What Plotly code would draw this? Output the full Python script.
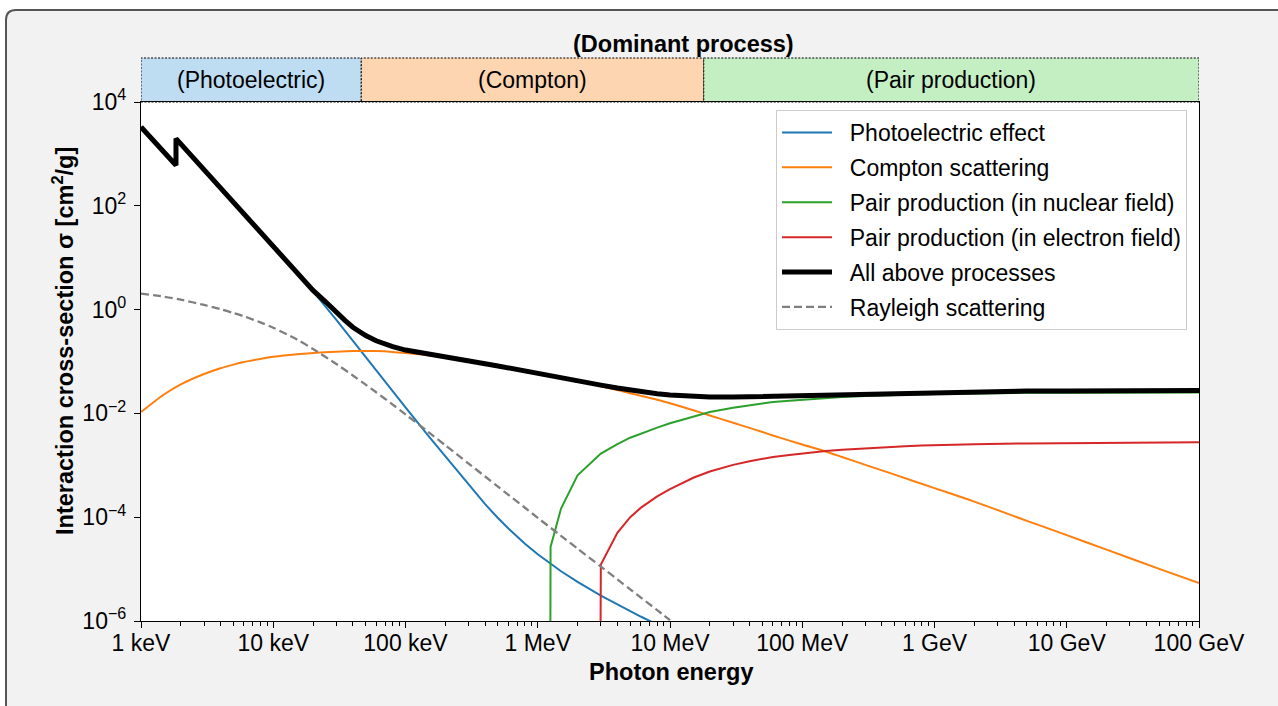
import math
import plotly.graph_objects as go

# ---------------- data (energies in MeV, cross-sections in cm^2/g) ----------------
photo_E = [0.001, 0.0015, 0.001839, 0.001839, 0.002, 0.003, 0.004, 0.005, 0.006, 0.008,
           0.01, 0.015, 0.02, 0.03, 0.04, 0.05, 0.06, 0.08, 0.1, 0.15, 0.2, 0.3, 0.4, 0.5,
           0.6, 0.8, 1.0, 1.5, 2.0, 3.0, 4.0, 5.0, 6.0, 8.0, 10.0]
photo_sigma = [3300, 1064, 603, 1972, 1556, 491, 217, 115, 68.7, 30.3,
               16.1, 5.09, 2.25, 0.637, 0.249, 0.122, 0.0676, 0.0267, 0.0130, 3.61e-3,
               1.48e-3, 4.19e-4, 1.78e-4, 9.64e-5, 6.07e-5, 3.08e-5, 1.93e-5, 9.10e-6,
               5.66e-6, 3.08e-6, 2.07e-6, 1.54e-6, 1.22e-6, 8.53e-7, 6.5e-7]

compton_E = [0.001, 0.0015, 0.002, 0.003, 0.004, 0.005, 0.006, 0.008, 0.01, 0.015, 0.02,
             0.03, 0.04, 0.05, 0.06, 0.08, 0.1, 0.15, 0.2, 0.3, 0.4, 0.5, 0.6, 0.8, 1,
             1.5, 2, 3, 4, 5, 6, 8, 10, 15, 20, 30, 40, 50, 60, 80, 100, 150, 200, 300,
             400, 500, 1000, 2000, 5000, 1e4, 2e4, 5e4, 1e5]
compton_sigma = [0.0106, 0.0234, 0.0363, 0.0575, 0.0741, 0.0871, 0.0977, 0.112, 0.123,
                 0.138, 0.146, 0.154, 0.1585, 0.1596, 0.1585, 0.153, 0.146, 0.132, 0.120,
                 0.101, 0.0891, 0.0813, 0.0750, 0.0661, 0.0596, 0.0490, 0.0417, 0.0335,
                 0.0282, 0.0245, 0.0219, 0.0184, 0.0157, 0.0115, 0.00912, 0.00661,
                 0.00525, 0.00437, 0.00376, 0.00299, 0.00251, 0.00185, 0.00145, 0.00102,
                 8.0e-4, 6.61e-4, 3.63e-4, 2.0e-4, 8.51e-5, 4.52e-5, 2.37e-5, 1.01e-5, 5.37e-6]

pair_nuc_E = [1.022, 1.25, 1.5, 2, 3, 4, 5, 6, 8, 10, 15, 20, 30, 40, 50, 60, 80, 100,
              150, 200, 300, 400, 500, 600, 800, 1000, 2000, 5000, 1e4, 1e5]
pair_nuc_sigma = [0, 2.67e-5, 1.47e-4, 6.41e-4, 1.68e-3, 2.57e-3, 3.40e-3, 4.07e-3,
                  5.33e-3, 6.46e-3, 8.51e-3, 0.0106, 0.0129, 0.01445, 0.01585, 0.0166,
                  0.0176, 0.0184, 0.0197, 0.0207, 0.0216, 0.0223, 0.0226, 0.0229, 0.0233,
                  0.0237, 0.0244, 0.0249, 0.0251, 0.0252]

pair_el_E = [2.044, 3, 4, 5, 6, 8, 10, 15, 20, 30, 40, 50, 60, 80, 100, 150, 200, 300,
             400, 500, 600, 800, 1000, 2000, 5000, 1e4, 1e5]
pair_el_sigma = [0, 1.23e-5, 5.01e-5, 1.0e-4, 1.51e-4, 2.51e-4, 3.47e-4, 5.75e-4, 7.59e-4,
                 1.02e-3, 1.20e-3, 1.35e-3, 1.45e-3, 1.58e-3, 1.70e-3, 1.88e-3, 2.0e-3,
                 2.14e-3, 2.24e-3, 2.29e-3, 2.34e-3, 2.40e-3, 2.44e-3, 2.54e-3, 2.64e-3,
                 2.69e-3, 2.77e-3]

total_E = [0.001, 0.0015, 0.001839, 0.001839, 0.002, 0.003, 0.004, 0.005, 0.006, 0.008,
           0.01, 0.015, 0.02, 0.025, 0.03, 0.035, 0.04, 0.045, 0.05, 0.06, 0.07, 0.08,
           0.1, 0.15, 0.2, 0.3, 0.4, 0.5, 0.6, 0.8, 1, 1.5, 2, 3, 4, 5, 6, 8, 10, 15, 20,
           30, 40, 50, 60, 80, 100, 150, 200, 300, 500, 1000, 2000, 5000, 1e4, 1e5]
total_sigma = [3300, 1072, 605, 1975, 1556, 490, 218, 116, 69.2, 30.9, 16.4, 5.25, 2.34,
               1.40, 0.871, 0.612, 0.457, 0.375, 0.316, 0.251, 0.215, 0.193, 0.166,
               0.137, 0.122, 0.102, 0.0902, 0.0822, 0.0750, 0.0661, 0.0600, 0.0495,
               0.0427, 0.0351, 0.0309, 0.0282, 0.0263, 0.0240, 0.0226, 0.0211, 0.0207,
               0.0207, 0.0210, 0.0215, 0.0219, 0.0223, 0.0226, 0.0233, 0.0238, 0.0244,
               0.0251, 0.0258, 0.0264, 0.0269, 0.0271, 0.0275]

rayleigh_E = [0.001, 0.0015, 0.002, 0.003, 0.004, 0.005, 0.006, 0.008, 0.01, 0.015, 0.02,
              0.03, 0.04, 0.05, 0.06, 0.08, 0.1, 0.15, 0.2, 0.3, 0.4, 0.5, 0.6, 0.8, 1,
              1.5, 2, 3, 4, 5, 6, 8, 10]
rayleigh_sigma = [2.04, 1.77, 1.55, 1.23, 1.02, 0.861, 0.743, 0.569, 0.448, 0.267, 0.174,
                  0.0893, 0.0538, 0.0358, 0.0255, 0.0148, 0.00957, 0.00432, 0.00243,
                  1.08e-3, 6.08e-4, 3.89e-4, 2.70e-4, 1.52e-4, 9.73e-5, 4.38e-5, 2.48e-5,
                  1.12e-5, 6.34e-6, 4.08e-6, 2.85e-6, 1.62e-6, 1.04e-6]

# dominant-process bands (MeV)
band_edges = [0.001, 0.0463, 18.0, 1e5]
band_labels = ["(Photoelectric)", "(Compton)", "(Pair production)"]
band_colors = ["#bedcf2", "#fdd5b0", "#c3efc3"]

x_tickvals = [1e-3, 1e-2, 1e-1, 1, 10, 100, 1e3, 1e4, 1e5]
x_ticktext = ["1 keV", "10 keV", "100 keV", "1 MeV", "10 MeV", "100 MeV",
              "1 GeV", "10 GeV", "100 GeV"]
y_tickvals = [1e-6, 1e-4, 1e-2, 1, 1e2, 1e4]
y_ticktext = ["10<sup>−6</sup>", "10<sup>−4</sup>", "10<sup>−2</sup>",
              "10<sup>0</sup>", "10<sup>2</sup>", "10<sup>4</sup>"]

# ---------------- layout geometry ----------------
W, H = 1278, 706
ML, MR, MT, MB = 141, 79, 102, 85
PW, PH = W - ML - MR, H - MT - MB


def px(xp):
    return (xp - ML) / PW


def py(yp):
    return (H - MB - yp) / PH


def clip0(vals):
    return [v if v > 0 else 1e-100 for v in vals]


FONT = "Liberation Sans, Arial, Helvetica, sans-serif"
PAD = "\u00a0\u00a0"

fig = go.Figure()
series = [
    ("Photoelectric effect", photo_E, photo_sigma, "#1f77b4", 2, "solid", "linear"),
    ("Compton scattering", compton_E, compton_sigma, "#ff7f0e", 2, "solid", "spline"),
    ("Pair production (in nuclear field)", pair_nuc_E, pair_nuc_sigma, "#2ca02c", 2, "solid", "linear"),
    ("Pair production (in electron field)", pair_el_E, pair_el_sigma, "#d62728", 2, "solid", "linear"),
    ("All above processes", total_E, total_sigma, "#000000", 5, "solid", "linear"),
    ("Rayleigh scattering", rayleigh_E, rayleigh_sigma, "#7f7f7f", 2.3, "8px,4px", "spline"),
]
for i, (name, xs, ys, col, lw, dash, shape) in enumerate(series):
    line = dict(color=col, width=lw, dash=dash, shape=shape)
    if shape == "spline":
        line["smoothing"] = 0.8
    fig.add_trace(go.Scatter(x=xs, y=clip0(ys), mode="lines", name=PAD + name,
                             legendgroup=f"g{i}", line=line))

shapes = []
# white area outside the rounded frame
shapes.append(dict(
    type="path", xref="paper", yref="paper", layer="below",
    path=(f"M {px(-20)},{py(-20)} L {px(1500)},{py(-20)} L {px(1500)},{py(10)} "
          f"L {px(16)},{py(10)} Q {px(6)},{py(10)} {px(6)},{py(20)} "
          f"L {px(6)},{py(900)} L {px(-20)},{py(900)} Z"),
    fillcolor="white", line=dict(width=0)))
# frame border
shapes.append(dict(
    type="path", xref="paper", yref="paper", layer="below",
    path=(f"M {px(6)},{py(900)} L {px(6)},{py(20)} Q {px(6)},{py(10)} {px(16)},{py(10)} "
          f"L {px(1500)},{py(10)}"),
    fillcolor="rgba(0,0,0,0)", line=dict(color="#555555", width=2)))
# dominant process bands
for i in range(3):
    shapes.append(dict(
        type="rect", xref="x", yref="paper", layer="below",
        x0=band_edges[i], x1=band_edges[i + 1], y0=1, y1=py(58),
        fillcolor=band_colors[i], line=dict(color="black", width=1, dash="2px,1.5px")))

annotations = []
for i in range(3):
    xc = (math.log10(band_edges[i]) + math.log10(band_edges[i + 1])) / 2
    annotations.append(dict(x=xc, y=py(80), xref="x", yref="paper", text=band_labels[i],
                            showarrow=False, xanchor="center", yanchor="middle",
                            font=dict(size=23, family=FONT, color="black")))
annotations.append(dict(x=px(683), y=py(44), xref="paper", yref="paper",
                        text="<b>(Dominant process)</b>", showarrow=False,
                        xanchor="center", yanchor="middle",
                        font=dict(size=23.5, family=FONT, color="black")))
annotations.append(dict(x=px(671), y=py(672), xref="paper", yref="paper",
                        text="<b>Photon energy</b>", showarrow=False,
                        xanchor="center", yanchor="middle",
                        font=dict(size=23.5, family=FONT, color="black")))
annotations.append(dict(x=px(63), y=py(341), xref="paper", yref="paper",
                        text="<b>Interaction cross-section σ [cm<sup>2</sup>/g]</b>",
                        showarrow=False, textangle=-90, xanchor="center", yanchor="middle",
                        font=dict(size=23.5, family=FONT, color="black")))

minor_x = [m * 10 ** e for e in range(-3, 5) for m in range(2, 10)]

fig.update_layout(
    template="none",
    width=W, height=H,
    margin=dict(l=ML, r=MR, t=MT, b=MB, pad=0, autoexpand=False),
    paper_bgcolor="#f2f2f2", plot_bgcolor="white",
    font=dict(family=FONT, size=23, color="black"),
    shapes=shapes, annotations=annotations,
    showlegend=True,
    legend=dict(x=px(1187), y=py(110), xanchor="right", yanchor="top",
                bgcolor="white", bordercolor="#cccccc", borderwidth=1,
                font=dict(size=23, family=FONT, color="black"),
                itemwidth=50, traceorder="grouped", tracegroupgap=2),
    xaxis=dict(type="log", range=[-3, 5], tickmode="array", tickvals=x_tickvals,
               ticktext=x_ticktext, ticks="outside", ticklen=6, tickwidth=1,
               tickcolor="black", showline=True, linecolor="black", linewidth=1.2,
               mirror=True, showgrid=False, zeroline=False, automargin=False,
               ticklabelstandoff=-5,
               tickfont=dict(size=23, family=FONT, color="black"),
               minor=dict(tickmode="array", tickvals=minor_x, ticks="outside",
                          ticklen=3.5, tickwidth=1, tickcolor="black", showgrid=False)),
    yaxis=dict(type="log", range=[-6, 4], tickmode="array", tickvals=y_tickvals,
               ticktext=y_ticktext, ticks="outside", ticklen=6, tickwidth=1,
               tickcolor="black", showline=True, linecolor="black", linewidth=1.2,
               mirror=True, showgrid=False, zeroline=False, automargin=False,
               ticklabelstandoff=3,
               tickfont=dict(size=23, family=FONT, color="black")),
)

fig.write_html("out.html")
